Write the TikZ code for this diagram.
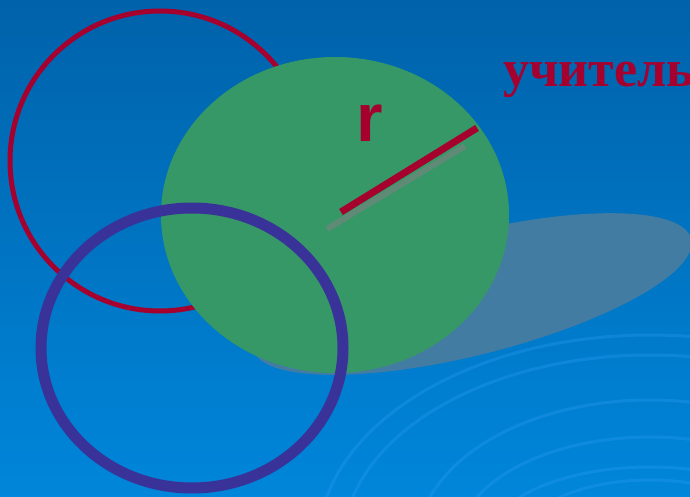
\documentclass[tikz,border=0pt]{standalone}
\usepackage{fontspec}
\newfontfamily\wordfont{Liberation Serif}
\newfontfamily\letterfont{Liberation Sans}
\usetikzlibrary{positioning}
\definecolor{SkyTop}{HTML}{0062AA}
\definecolor{SkyBottom}{HTML}{0086DA}
\definecolor{Leaf}{HTML}{369866}
\definecolor{Wine}{HTML}{A6002E}
\definecolor{Indigo}{HTML}{393399}
\definecolor{Haze}{HTML}{437CA2}
\definecolor{Ripple}{HTML}{2A9BF0}
\definecolor{Smoke}{HTML}{5F8A76}
\tikzset{
  disc/.style={fill=Leaf},
  castshadow/.style={fill=Haze},
  ripple/.style={draw=Ripple,line width=3pt,opacity=0.35},
  thinring/.style={draw=Wine,line width=5pt},
  thickring/.style={draw=Indigo,line width=11pt},
  radius line/.style={draw=Wine,line width=7pt},
  radius shade/.style={draw=Smoke,line width=6pt},
  word/.style={font=\wordfont\bfseries\fontsize{52}{52}\selectfont,text=Wine,inner sep=0pt},
  letter/.style={font=\letterfont\bfseries\fontsize{68}{68}\selectfont,text=Wine,inner sep=0pt}
}

\begin{document}
\begin{tikzpicture}[x=1pt,y=-1pt]
  \useasboundingbox (0,0) rectangle (690,497);
  \clip (0,0) rectangle (690,497);
  \shade[top color=SkyTop,bottom color=SkyBottom] (0,0) rectangle (690,497);
  % shadow of the disc
  \fill[castshadow,shift={(472,294)},rotate=14.1] (0,0) ellipse [x radius=226,y radius=61];
  % ripples
  \foreach \rx/\ry in {332/210,307/190,233/145,193/108,165/78,133/65}
    \draw[ripple] (650,545) ellipse [x radius=\rx,y radius=\ry];
  \draw[thinring] (160,161) circle [radius=150];
  \fill[disc] (335,215) ellipse [x radius=174,y radius=158];
  \coordinate (centre) at (341,212);
  \coordinate (rim) at (477,128);
  \coordinate (centre shade) at (327,229);
  \coordinate (rim shade) at (465,146);
  \draw[radius shade] (centre shade) -- (rim shade);
  \draw[radius line] (centre) -- (rim);
  \draw[thickring] (192,348) ellipse [x radius=151,y radius=140];
  \node[letter,anchor=base] (rlabel) at (370,142) {r};
  \node[word,anchor=base west] (teacher) at (503,87) {учитель};
\end{tikzpicture}
\end{document}
